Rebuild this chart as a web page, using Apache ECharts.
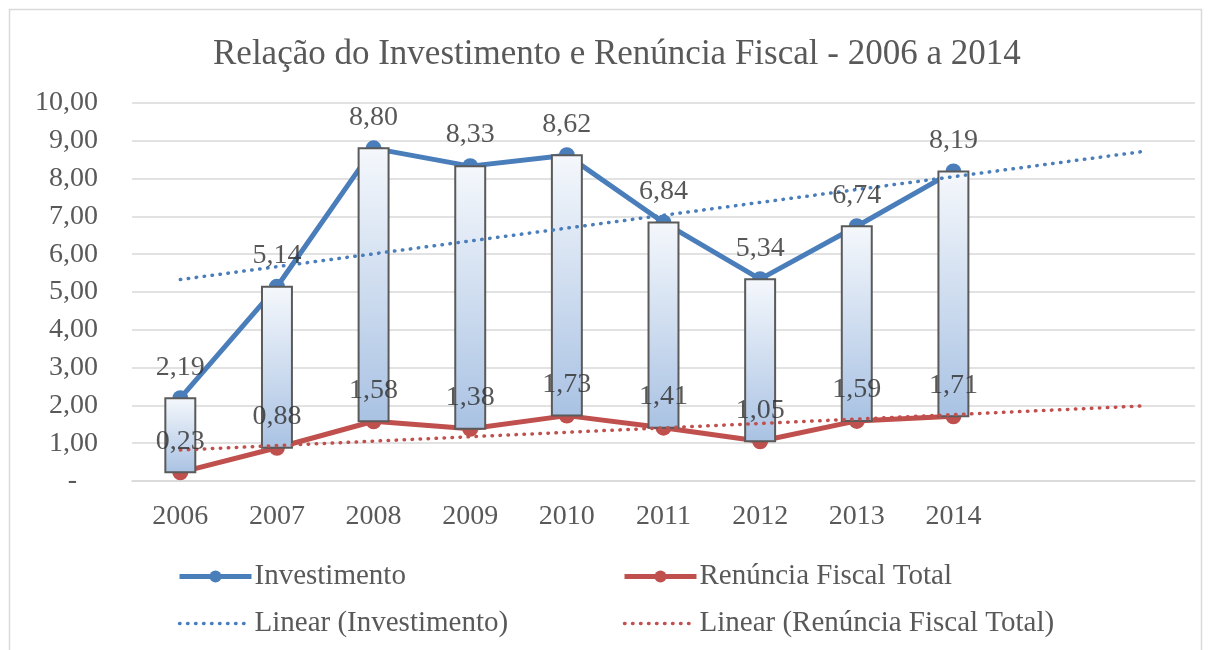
<!DOCTYPE html>
<html>
<head>
<meta charset="utf-8">
<script src="https://cdn.jsdelivr.net/npm/echarts@6/dist/echarts.min.js"></script>
<style>
  html, body { margin: 0; padding: 0; background: #fff; }
  #chart { width: 1211px; height: 650px; }
</style>
</head>
<body>
<div id="chart"></div>
<script>
// categories (two empty slots at the end for the trendline forecast)
const years = ['2006', '2007', '2008', '2009', '2010', '2011', '2012', '2013', '2014', '', '']
const investimento = [2.19, 5.14, 8.80, 8.33, 8.62, 6.84, 5.34, 6.74, 8.19]
const renuncia = [0.23, 0.88, 1.58, 1.38, 1.73, 1.41, 1.05, 1.59, 1.71]
// trendline end points: [category index, value]
const trendInvestimento = [[0, 5.33], [10, 8.73]]
const trendRenuncia = [[0, 0.82], [10, 1.99]]

const FONT = 'Liberation Serif'
const BLUE = '#4a7ebb'
const RED = '#c0504d'
const fmt = v => v.toFixed(2).replace('.', ',')
const dotted = { width: 3.5, type: [0.5, 7.5], cap: 'round' }

const chart = echarts.init(document.getElementById('chart'))

const labelSeries = (name, values) => ({
  name: name + '_label',
  type: 'scatter',
  z: 6,
  symbolSize: 1,
  itemStyle: { color: 'transparent' },
  silent: true,
  data: values.map((v, i) => [i, v]),
  label: {
    show: true,
    position: 'inside',
    offset: [0, -31],
    fontFamily: FONT,
    fontSize: 28,
    color: '#2e2e2e',
    formatter: p => fmt(p.value[1])
  }
})

const legendCommon = {
  orient: 'vertical',
  itemWidth: 72,
  itemHeight: 15,
  itemGap: 18,
  textStyle: { fontFamily: FONT, fontSize: 29, color: '#595959', padding: [0, 0, 0, -2] }
}

chart.setOption({
  animation: false,
  backgroundColor: '#fff',
  title: {
    text: 'Relação do Investimento e Renúncia Fiscal - 2006 a 2014',
    left: 208,
    top: 32,
    textStyle: { fontFamily: FONT, fontSize: 35, fontWeight: 'normal', color: '#595959' }
  },
  graphic: [{
    type: 'rect',
    shape: { x: 9.5, y: 9.5, width: 1192, height: 660 },
    style: { fill: 'none', stroke: '#d9d9d9', lineWidth: 1.5 },
    silent: true
  }],
  legend: [
    Object.assign({
      left: 172, top: 557,
      data: [
        { name: 'Investimento', lineStyle: { width: 5 } },
        { name: 'Linear (Investimento)', itemStyle: { opacity: 0 }, lineStyle: dotted }
      ]
    }, legendCommon),
    Object.assign({
      left: 617, top: 557,
      data: [
        { name: 'Renúncia Fiscal Total', lineStyle: { width: 5 } },
        { name: 'Linear (Renúncia Fiscal Total)', itemStyle: { opacity: 0 }, lineStyle: dotted }
      ]
    }, legendCommon)
  ],
  grid: { left: 132, right: 16, top: 103, bottom: 169 },
  xAxis: {
    type: 'category',
    data: years,
    boundaryGap: true,
    axisLine: { lineStyle: { color: '#d9d9d9', width: 1.5 } },
    axisTick: { show: false },
    axisLabel: { interval: 0, margin: 22, fontFamily: FONT, fontSize: 28, color: '#595959' }
  },
  yAxis: {
    type: 'value',
    min: 0,
    max: 10,
    interval: 1,
    axisLine: { show: false },
    axisTick: { show: false },
    splitLine: { lineStyle: { color: '#d9d9d9', width: 1.5 } },
    axisLabel: {
      margin: 34,
      fontFamily: FONT,
      fontSize: 28,
      color: '#595959',
      formatter: v => v === 0 ? '-   ' : fmt(v)
    }
  },
  series: [
    {
      name: 'Investimento',
      type: 'line',
      z: 2,
      data: investimento,
      symbol: 'circle',
      symbolSize: 16,
      color: BLUE,
      lineStyle: { width: 5, color: BLUE }
    },
    {
      name: 'Renúncia Fiscal Total',
      type: 'line',
      z: 2,
      data: renuncia,
      symbol: 'circle',
      symbolSize: 16,
      color: RED,
      lineStyle: { width: 5, color: RED }
    },
    {
      name: 'updown',
      type: 'custom',
      z: 3,
      silent: true,
      data: investimento.map((v, i) => [i, v, renuncia[i]]),
      encode: { x: 0, y: [1, 2] },
      renderItem: (params, api) => {
        const top = api.coord([api.value(0), api.value(1)])
        const bot = api.coord([api.value(0), api.value(2)])
        const w = api.size([1, 0])[0] * 0.31
        return {
          type: 'rect',
          shape: { x: top[0] - w / 2, y: top[1], width: w, height: bot[1] - top[1] },
          style: {
            fill: new echarts.graphic.LinearGradient(0, 0, 0, 1, [
              { offset: 0, color: '#f5f8fc' },
              { offset: 1, color: '#a9c2e3' }
            ]),
            stroke: '#5a5a5a',
            lineWidth: 2
          }
        }
      }
    },
    {
      name: 'Linear (Investimento)',
      type: 'line',
      z: 4,
      data: trendInvestimento,
      symbol: 'none',
      color: BLUE,
      lineStyle: Object.assign({ color: BLUE }, dotted)
    },
    {
      name: 'Linear (Renúncia Fiscal Total)',
      type: 'line',
      z: 4,
      data: trendRenuncia,
      symbol: 'none',
      color: RED,
      lineStyle: Object.assign({ color: RED }, dotted)
    },
    labelSeries('Investimento', investimento),
    labelSeries('Renúncia Fiscal Total', renuncia)
  ]
})
</script>
</body>
</html>
